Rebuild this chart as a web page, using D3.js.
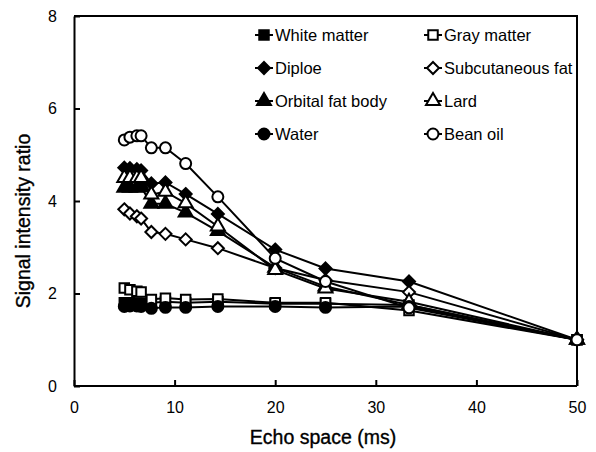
<!DOCTYPE html>
<html>
<head>
<meta charset="utf-8">
<script src="https://cdn.jsdelivr.net/npm/d3@7"></script>
<style>
  body { margin: 0; background: #fff; }
  svg { font-family: "Liberation Sans", Arial, sans-serif; }
  .axis path, .axis line { stroke: #000; stroke-width: 2; }
  .axis text { font-size: 16px; fill: #000; }
  .title { font-size: 19.5px; fill: #000; stroke: #000; stroke-width: 0.35; }
</style>
</head>
<body>
<svg width="596" height="452"></svg>
<script>
// echo space values (ms)
var echoSpace = [5, 5.56, 6.25, 6.67, 7.69, 9.09, 11.1, 14.3, 20, 25, 33.3, 50];

var whiteMatter = [1.8, 1.8, 1.79, 1.79, 1.8, 1.82, 1.8, 1.82, 1.78, 1.78, 1.75, 1.0];
var grayMatter  = [2.12, 2.08, 2.05, 2.03, 1.87, 1.9, 1.87, 1.88, 1.8, 1.8, 1.63, 1.0];
var diploe      = [4.72, 4.71, 4.69, 4.66, 4.38, 4.4, 4.15, 3.72, 2.95, 2.54, 2.26, 1.0];
var subcutFat   = [3.82, 3.73, 3.67, 3.62, 3.33, 3.29, 3.17, 2.98, 2.55, 2.29, 2.03, 1.0];
var orbitalFat  = [4.29, 4.29, 4.29, 4.3, 3.94, 3.94, 3.75, 3.35, 2.56, 2.15, 1.75, 1.0];
var lard        = [4.5, 4.5, 4.5, 4.5, 4.14, 4.2, 3.95, 3.45, 2.51, 2.11, 1.82, 1.0];
var water       = [1.72, 1.73, 1.73, 1.72, 1.68, 1.7, 1.7, 1.72, 1.72, 1.7, 1.72, 1.0];
var beanOil     = [5.32, 5.38, 5.41, 5.41, 5.15, 5.15, 4.81, 4.09, 2.76, 2.26, 1.69, 1.0];

var seriesNames = ["White matter", "Gray matter", "Diploe", "Subcutaneous fat",
                   "Orbital fat body", "Lard", "Water", "Bean oil"];
var seriesValues = [whiteMatter, grayMatter, diploe, subcutFat, orbitalFat, lard, water, beanOil];
var seriesShape = ["square", "square", "diamond", "diamond", "triangle", "triangle", "circle", "circle"];
var seriesFilled = [true, false, true, false, true, false, true, false];

var xTicks = [0, 10, 20, 30, 40, 50];
var yTicks = [0, 2, 4, 6, 8];

var svg = d3.select("svg");
var margin = {top: 16, right: 19, bottom: 66, left: 74};
var width = +svg.attr("width") - margin.left - margin.right;
var height = +svg.attr("height") - margin.top - margin.bottom;

var x = d3.scaleLinear().domain([0, 50]).range([margin.left, margin.left + width]);
var y = d3.scaleLinear().domain([0, 8]).range([margin.top + height, margin.top]);

// excel-like diamond: a square turned 45 degrees
var squareDiamond = {
    draw: function(context, size) {
        var r = Math.sqrt(size / 2);
        context.moveTo(0, -r);
        context.lineTo(r, 0);
        context.lineTo(0, r);
        context.lineTo(-r, 0);
        context.closePath();
    }
};

var symbolType = {
    square: d3.symbolSquare,
    diamond: squareDiamond,
    triangle: d3.symbolTriangle,
    circle: d3.symbolCircle
};
var symbolSize = {square: 90, diamond: 72, triangle: 85, circle: 95};

function marker(sel, i) {
    sel.attr("d", d3.symbol().type(symbolType[seriesShape[i]]).size(symbolSize[seriesShape[i]]))
        .attr("fill", seriesFilled[i] ? "#000" : "#fff")
        .attr("stroke", "#000")
        .attr("stroke-width", 2);
}

// frame (top and right)
svg.append("path")
    .attr("d", "M" + x(0) + "," + y(8) + "H" + x(50) + "V" + y(0))
    .attr("fill", "none")
    .attr("stroke", "#000")
    .attr("stroke-width", 2);

svg.append("g")
    .attr("class", "axis")
    .attr("transform", "translate(0," + y(0) + ")")
    .call(d3.axisBottom(x).tickValues(xTicks).tickSizeInner(-6).tickSizeOuter(0).tickPadding(16))
    .call(function(g) { g.select(".domain").attr("d", "M" + x(0) + ",0H" + x(50)); });

svg.append("g")
    .attr("class", "axis")
    .attr("transform", "translate(" + x(0) + ",0)")
    .call(d3.axisLeft(y).tickValues(yTicks).tickSizeInner(-6).tickSizeOuter(0).tickPadding(17));

var line = d3.line()
    .x(function(d, i) { return x(echoSpace[i]); })
    .y(function(d) { return y(d); });

seriesValues.forEach(function(vals, i) {
    var g = svg.append("g");
    g.append("path")
        .datum(vals)
        .attr("d", line)
        .attr("fill", "none")
        .attr("stroke", "#000")
        .attr("stroke-width", 2);
    g.selectAll("path.pt")
        .data(vals)
      .enter().append("path")
        .attr("class", "pt")
        .attr("transform", function(d, j) { return "translate(" + x(echoSpace[j]) + "," + y(d) + ")"; })
        .call(marker, i);
});

// legend
var legend = svg.append("g");
seriesNames.forEach(function(name, i) {
    var col = i % 2, row = Math.floor(i / 2);
    var lx = col === 0 ? 264 : 433;
    var ly = 35 + row * 33;
    legend.append("line")
        .attr("x1", lx - 9).attr("x2", lx + 9)
        .attr("y1", ly).attr("y2", ly)
        .attr("stroke", "#000").attr("stroke-width", 2);
    legend.append("path")
        .attr("transform", "translate(" + lx + "," + ly + ")")
        .call(marker, i);
    legend.append("text")
        .attr("x", lx + 11)
        .attr("y", ly + 6)
        .attr("font-size", 16.5)
        .text(name);
});

svg.append("text")
    .attr("class", "title")
    .attr("x", 323)
    .attr("y", 444)
    .attr("text-anchor", "middle")
    .text("Echo space (ms)");

svg.append("text")
    .attr("class", "title")
    .attr("transform", "translate(30,221) rotate(-90)")
    .attr("text-anchor", "middle")
    .text("Signal intensity ratio");
</script>
</body>
</html>
